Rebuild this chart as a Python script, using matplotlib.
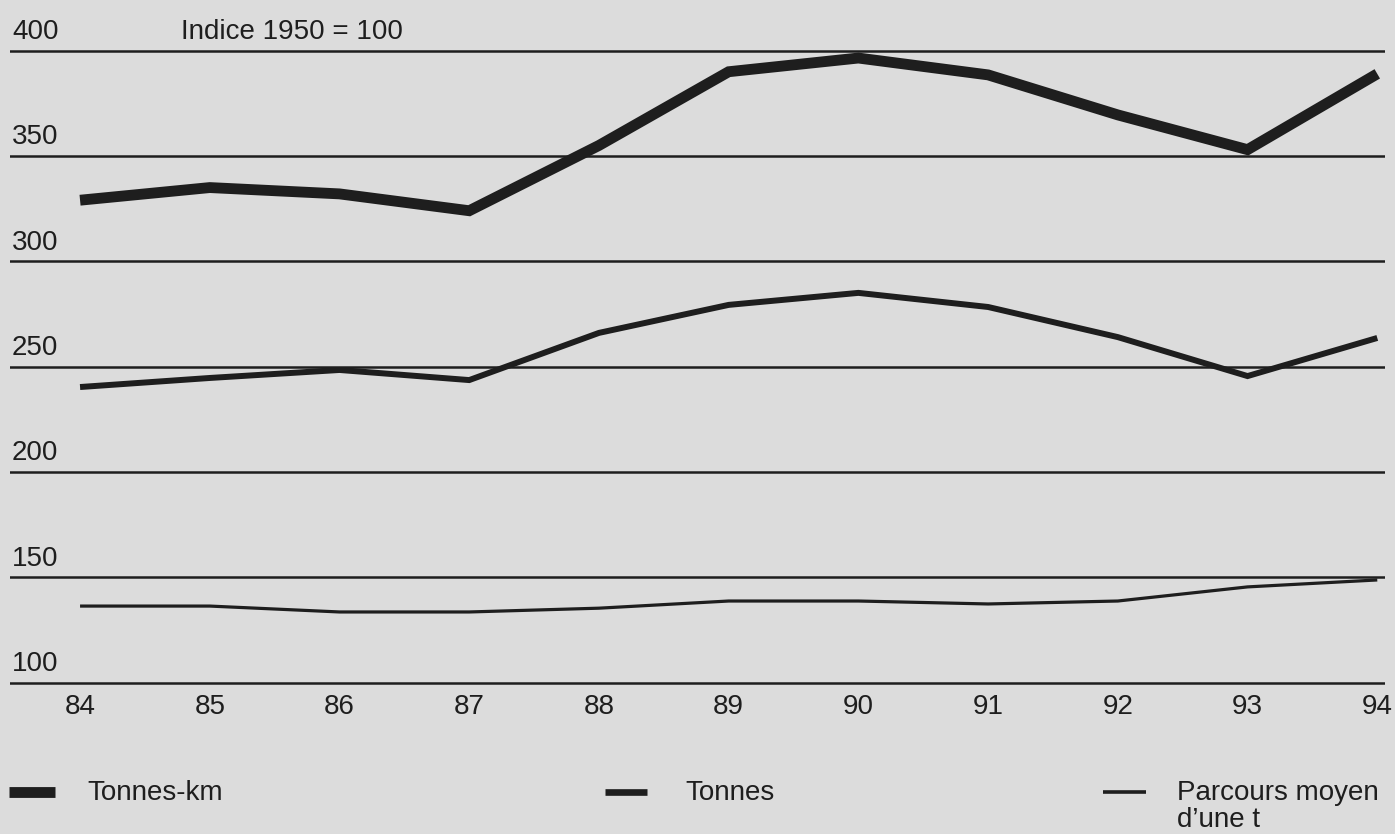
import matplotlib
matplotlib.use("Agg")
from matplotlib import pyplot as plt
from matplotlib.lines import Line2D

plt.rcParams['font.family'] = ['Liberation Sans', 'DejaVu Sans']

# -------- données (indice 1950 = 100) ----------#
annees = [84, 85, 86, 87, 88, 89, 90, 91, 92, 93, 94]
annees_lbl = ['84', '85', '86', '87', '88', '89', '90', '91', '92', '93', '94']
tonnes_km = [329, 335, 332, 324, 355, 390, 396.5, 388.5, 369.5, 353, 389]
tonnes = [240.3, 244.6, 248.4, 243.6, 266, 279.3, 285, 278.3, 264, 245.5, 263.6]
parcours = [136.3, 136.3, 133.5, 133.5, 135.3, 138.7, 138.7, 137.3, 138.7, 145.4, 148.7]
graduations = [100, 150, 200, 250, 300, 350, 400]

fond = '#dcdcdc'
encre = '#1e1e1e'
fs = 20

fig = plt.figure(figsize=(13.95, 8.34), dpi=100, facecolor=fond)
ax = fig.add_axes([0.00717, 0.1791, 0.9857, 0.7854])
ax.set_facecolor(fond)
ax.set_xlim(83.46, 94.06)
ax.set_ylim(99, 410)

for g in graduations:
    ax.axhline(g, color=encre, lw=1.8, zorder=1)
    ax.text(0.0015, g + 5.5, str(g), transform=ax.get_yaxis_transform(),
            fontsize=fs, color=encre, va='baseline', ha='left')

ax.text(0.124, 405.5, 'Indice 1950 = 100', transform=ax.get_yaxis_transform(),
        fontsize=fs, color=encre, va='baseline', ha='left')

ax.plot(annees, tonnes_km, color=encre, lw=7.8, solid_joinstyle='miter',
        solid_capstyle='butt', zorder=3)
ax.plot(annees, tonnes, color=encre, lw=4.3, solid_joinstyle='miter',
        solid_capstyle='butt', zorder=3)
ax.plot(annees, parcours, color=encre, lw=2.3, solid_capstyle='butt', zorder=3)

ax.set_xticks(annees)
ax.set_xticklabels(annees_lbl, fontsize=fs, color=encre)
ax.tick_params(axis='x', length=0, pad=7)
ax.set_yticks([])
for s in ax.spines.values():
    s.set_visible(False)

# -------- légende ----------#
W, H = 1395.0, 834.0
legende = [(9, 55, 87, 'Tonnes-km', 7.8),
           (605, 647, 685, 'Tonnes', 4.8),
           (1103, 1146, 1177, 'Parcours moyen', 2.6)]
for x0, x1, xt, txt, lw in legende:
    fig.add_artist(Line2D([x0 / W, x1 / W], [1 - 792 / H, 1 - 792 / H],
                          color=encre, lw=lw, solid_capstyle='butt'))
    fig.text(xt / W, 1 - 800 / H, txt, fontsize=fs, color=encre,
             va='baseline', ha='left')
fig.text(1177 / W, 1 - 827 / H, 'd\u2019une t', fontsize=fs, color=encre,
         va='baseline', ha='left')

plt.savefig('out.png', dpi=100, facecolor=fond)
